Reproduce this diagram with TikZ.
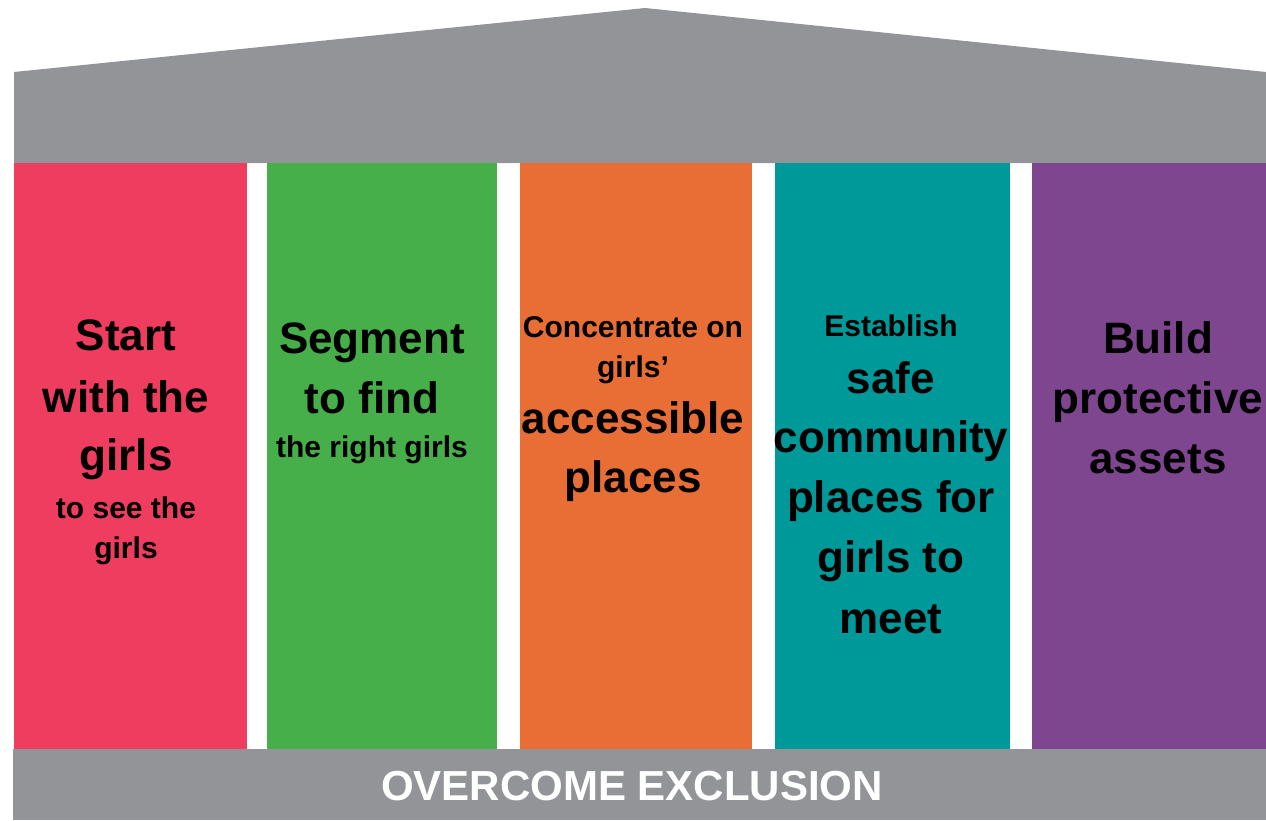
\documentclass[tikz,border=0pt]{standalone}
\usepackage{fontspec}
\setmainfont{Liberation Sans}
\definecolor{roofgrey}{HTML}{939498}
\definecolor{cpink}{HTML}{EF3D5F}
\definecolor{cgreen}{HTML}{46AF4A}
\definecolor{corange}{HTML}{E86E36}
\definecolor{cteal}{HTML}{00999A}
\definecolor{cpurple}{HTML}{7F4690}
\tikzset{
  big/.style={anchor=base,inner sep=0pt,font=\fontsize{44}{50}\selectfont\bfseries,text=black},
  small/.style={anchor=base,inner sep=0pt,font=\fontsize{30}{36}\selectfont\bfseries,text=black},
  pillar/.style={fill=#1,draw=none}
}
\begin{document}
\begin{tikzpicture}[x=1pt,y=-1pt]
\useasboundingbox (0,0) rectangle (1266,820);
% roof
\fill[roofgrey] (14,72) -- (645,8) -- (1266,72) -- (1266,163) -- (14,163) -- cycle;
% pillars
\fill[pillar=cpink]   (14,163) rectangle (247,749);
\fill[pillar=cgreen]  (267,163) rectangle (497,749);
\fill[pillar=corange] (520,163) rectangle (752,749);
\fill[pillar=cteal]   (775,163) rectangle (1010,749);
\fill[pillar=cpurple] (1032,163) rectangle (1266,749);
% base
\fill[roofgrey] (13,749) rectangle (1266,820);
\node[anchor=base,inner sep=0pt,text=white,font=\fontsize{42}{48}\selectfont\bfseries] (base) at (632,800) {OVERCOME EXCLUSION};
% pink
\node[big] (p1) at (126,350) {Start};
\node[big] (p2) at (126,412) {with the};
\node[big] (p3) at (126,470) {girls};
\node[small] (p4) at (126,518) {to see the};
\node[small] (p5) at (126,558) {girls};
% green
\node[big] (g1) at (372,353) {Segment};
\node[big] (g2) at (372,413) {to find};
\node[small] (g3) at (372,457) {the right girls};
% orange
\node[small] (o1) at (633,337) {Concentrate on};
\node[small] (o2) at (633,377) {girls’};
\node[big] (o3) at (633,433) {accessible};
\node[big] (o4) at (633,492) {places};
% teal
\node[small] (t1) at (891,336) {Establish};
\node[big] (t2) at (891,393) {safe};
\node[big] (t3) at (891,452) {community};
\node[big] (t4) at (891,512) {places for};
\node[big] (t5) at (891,572) {girls to};
\node[big] (t6) at (891,633) {meet};
% purple
\node[big] (u1) at (1158,353) {Build};
\node[big] (u2) at (1158,413) {protective};
\node[big] (u3) at (1158,473) {assets};
\end{tikzpicture}
\end{document}
